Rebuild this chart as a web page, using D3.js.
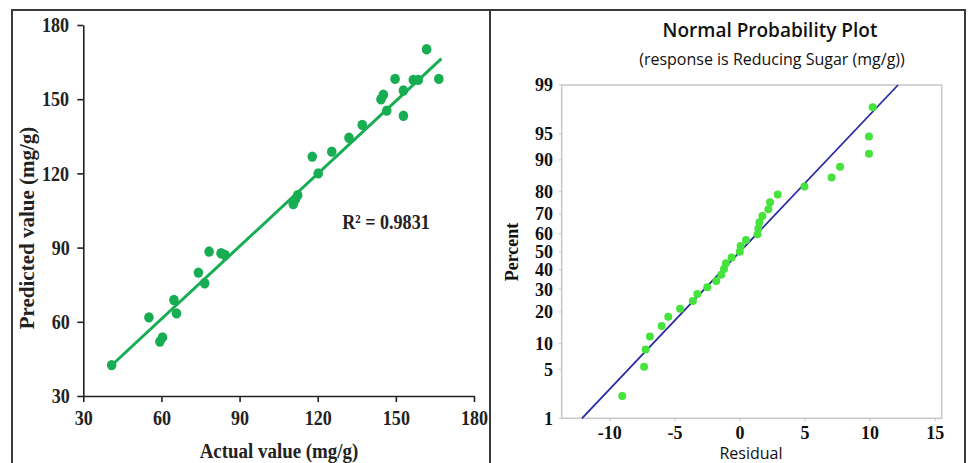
<!DOCTYPE html>
<html>
<head>
<meta charset="utf-8">
<script src="https://cdn.jsdelivr.net/npm/d3@7"></script>
<style>
  body { margin: 0; background: #fff; }
  svg { display: block; }
  .squeeze { transform-box: fill-box; transform-origin: center; }
</style>
</head>
<body>
<svg id="chart" width="970" height="463"></svg>
<script>
// ---- Left panel: actual vs predicted reducing sugar (mg/g) ----
const actualValues = [40.9, 55.2, 59.4, 60.4, 64.8, 65.8, 74.2, 76.6, 78.3, 82.9,
  84.4, 110.6, 111.5, 112.3, 117.9, 120.2, 125.4, 132.0, 137.1, 144.3,
  145.2, 146.5, 149.7, 152.9, 152.9, 156.7, 158.6, 161.8, 166.5];
const predictedValues = [42.5, 61.8, 52.0, 53.7, 68.8, 63.4, 79.9, 75.6, 88.4, 87.7,
  87.0, 107.6, 109.6, 111.2, 126.8, 120.0, 128.8, 134.4, 139.6, 150.0,
  151.8, 145.4, 158.2, 153.5, 143.3, 157.8, 157.8, 170.2, 158.2];
const valueTicks = [30, 60, 90, 120, 150, 180];
const trendSlope = 0.979;
const trendIntercept = 2.4;
const trendSpan = [41, 167.5];
const rSquaredText = "R² = 0.9831";

// ---- Right panel: normal probability plot of residuals ----
const residuals = [-9.05, -7.37, -7.25, -6.92, -6.02, -5.51, -4.6, -3.62, -3.28, -2.51,
  -1.82, -1.44, -1.23, -1.08, -0.64, -0.02, 0.05, 0.46, 1.35, 1.41,
  1.49, 1.72, 2.18, 2.31, 2.90, 4.95, 7.04, 7.69, 9.91, 9.91, 10.2];
const percents = [2.2, 5.4, 8.6, 11.8, 15.0, 18.2, 21.3, 24.5, 27.7, 30.9,
  34.1, 37.3, 40.4, 43.6, 46.8, 50.0, 53.2, 56.4, 59.6, 62.7,
  65.9, 69.1, 72.3, 75.5, 78.7, 81.8, 85.0, 88.2, 91.4, 94.6, 97.8];
const residualTicks = [-10, -5, 0, 5, 10, 15];
const percentTicks = [1, 5, 10, 20, 30, 40, 50, 60, 70, 80, 90, 95, 99];
const fitMean = 0;
const fitSd = 5.22;

// Inverse standard normal CDF (Acklam's rational approximation)
function probit(p) {
  const a = [-39.69683028665376, 220.9460984245205, -275.9285104469687, 138.3577518672690, -30.66479806614716, 2.506628277459239];
  const b = [-54.47609879822406, 161.5858368580409, -155.6989798598866, 66.80131188771972, -13.28068155288572];
  const c = [-0.007784894002430293, -0.3223964580411365, -2.400758277161838, -2.549732539343734, 4.374664141464968, 2.938163982698783];
  const d = [0.007784695709041462, 0.3224671290700398, 2.445134137142996, 3.754408661907416];
  const pl = 0.02425;
  let q, r;
  if (p < pl) {
    q = Math.sqrt(-2 * Math.log(p));
    return (((((c[0]*q+c[1])*q+c[2])*q+c[3])*q+c[4])*q+c[5]) / ((((d[0]*q+d[1])*q+d[2])*q+d[3])*q+1);
  } else if (p <= 1 - pl) {
    q = p - 0.5; r = q * q;
    return (((((a[0]*r+a[1])*r+a[2])*r+a[3])*r+a[4])*r+a[5])*q / (((((b[0]*r+b[1])*r+b[2])*r+b[3])*r+b[4])*r+1);
  } else {
    q = Math.sqrt(-2 * Math.log(1 - p));
    return -(((((c[0]*q+c[1])*q+c[2])*q+c[3])*q+c[4])*q+c[5]) / ((((d[0]*q+d[1])*q+d[2])*q+d[3])*q+1);
  }
}

const svg = d3.select("#chart");
const serif = "'Liberation Serif', 'Times New Roman', serif";
const sans = "'Open Sans', 'Noto Sans', sans-serif";

// Outer frame with divider between the two panels
svg.append("rect").attr("x", 12).attr("y", 10).attr("width", 953).attr("height", 470)
  .attr("fill", "none").attr("stroke", "#3a3a3a").attr("stroke-width", 2);
svg.append("line").attr("x1", 490).attr("x2", 490).attr("y1", 10).attr("y2", 463)
  .attr("stroke", "#3a3a3a").attr("stroke-width", 2);

// ================= Left panel =================
const L = svg.append("g");
const xL = d3.scaleLinear().domain([30, 180]).range([83.3, 474]);
const yL = d3.scaleLinear().domain([30, 180]).range([396, 25]);

const xAxisL = L.append("g").attr("transform", `translate(0,${yL(30)})`)
  .call(d3.axisBottom(xL).tickValues(valueTicks).tickSize(6).tickSizeOuter(0).tickPadding(7));
const yAxisL = L.append("g").attr("transform", `translate(${xL(30)},0)`)
  .call(d3.axisLeft(yL).tickValues(valueTicks).tickSize(6).tickSizeOuter(0).tickPadding(6));
[xAxisL, yAxisL].forEach(ax => {
  ax.selectAll("path, line").attr("stroke", "#222").attr("stroke-width", 1.6);
  ax.selectAll("text").attr("fill", "#222").attr("font-family", serif)
    .attr("font-weight", "bold").attr("font-size", 21)
    .attr("class", "squeeze").style("transform", "scale(0.86,1)");
});
xAxisL.selectAll("text").attr("dy", "0.78em");

// Trend line
const lineL = d3.line().x(d => xL(d)).y(d => yL(trendIntercept + trendSlope * d));
L.append("path").attr("d", lineL(trendSpan)).attr("fill", "none")
  .attr("stroke", "#17ad52").attr("stroke-width", 3);

// Points
L.append("g").selectAll("ellipse").data(actualValues).join("ellipse")
  .attr("cx", (d) => xL(d)).attr("cy", (d, i) => yL(predictedValues[i]))
  .attr("rx", 4.8).attr("ry", 5.2).attr("fill", "#17ad52");

// R² annotation
L.append("text").attr("x", 386).attr("y", 229).attr("text-anchor", "middle")
  .attr("font-family", serif).attr("font-size", 21).attr("font-weight", "bold")
  .attr("fill", "#222").attr("class", "squeeze").style("transform", "scale(0.86,1)")
  .text(rSquaredText);

// Axis titles
L.append("text").attr("x", 279).attr("y", 458).attr("text-anchor", "middle")
  .attr("font-family", serif).attr("font-size", 21.5).attr("font-weight", "bold")
  .attr("fill", "#222").attr("class", "squeeze").style("transform", "scale(0.88,1)")
  .text("Actual value (mg/g)");
L.append("text").attr("transform", "translate(34,228) rotate(-90)").attr("text-anchor", "middle")
  .attr("font-family", serif).attr("font-size", 21).attr("font-weight", "bold")
  .attr("fill", "#222").text("Predicted value (mg/g)");

// ================= Right panel =================
const R = svg.append("g");
const zMax = probit(0.99);
const xR = d3.scaleLinear().domain([-13.7, 15.5]).range([561.7, 941.7]);
const zR = d3.scaleLinear().domain([-zMax, zMax]).range([418.3, 85]);
const yR = p => zR(probit(p / 100));

// Plot box
R.append("rect").attr("x", xR.range()[0]).attr("y", 85)
  .attr("width", xR.range()[1] - xR.range()[0]).attr("height", 418.3 - 85)
  .attr("fill", "none").attr("stroke", "#c9c9c9").attr("stroke-width", 1.6);

// Percent ticks and labels
R.append("g").selectAll("line").data(percentTicks).join("line")
  .attr("x1", xR.range()[0] - 3).attr("x2", xR.range()[0])
  .attr("y1", d => yR(d)).attr("y2", d => yR(d))
  .attr("stroke", "#c9c9c9").attr("stroke-width", 1);
R.append("g").selectAll("text").data(percentTicks).join("text")
  .attr("x", 553).attr("y", d => yR(d)).attr("dy", "0.35em").attr("text-anchor", "end")
  .attr("font-family", serif).attr("font-weight", "bold").attr("font-size", 18)
  .attr("fill", "#111").text(d => d);

// Residual ticks and labels
R.append("g").selectAll("line").data(residualTicks).join("line")
  .attr("x1", d => xR(d)).attr("x2", d => xR(d))
  .attr("y1", 418.3).attr("y2", 421.3)
  .attr("stroke", "#c9c9c9").attr("stroke-width", 1);
R.append("g").selectAll("text").data(residualTicks).join("text")
  .attr("x", d => xR(d)).attr("y", 439).attr("text-anchor", "middle")
  .attr("font-family", serif).attr("font-weight", "bold").attr("font-size", 18)
  .attr("fill", "#111").text(d => d);

// Normal fit line
const lineR = d3.line().x(p => xR(fitMean + fitSd * probit(p / 100))).y(p => yR(p));
R.append("path").attr("d", lineR([1, 99])).attr("fill", "none")
  .attr("stroke", "#2a2aa6").attr("stroke-width", 1.8);

// Residual points
R.append("g").selectAll("circle").data(residuals).join("circle")
  .attr("cx", d => xR(d)).attr("cy", (d, i) => yR(percents[i]))
  .attr("r", 4).attr("fill", "#45e33c");

// Titles
R.append("text").attr("x", 770).attr("y", 37).attr("text-anchor", "middle")
  .attr("font-family", sans).attr("font-size", 19).attr("font-weight", 600).attr("fill", "#111")
  .text("Normal Probability Plot");
R.append("text").attr("x", 772).attr("y", 65).attr("text-anchor", "middle")
  .attr("font-family", sans).attr("font-size", 16).attr("fill", "#111")
  .text("(response is Reducing Sugar (mg/g))");
R.append("text").attr("x", 751).attr("y", 459).attr("text-anchor", "middle")
  .attr("font-family", sans).attr("font-size", 16).attr("fill", "#111")
  .text("Residual");
R.append("text").attr("transform", "translate(518,252) rotate(-90)").attr("text-anchor", "middle")
  .attr("font-family", serif).attr("font-weight", "bold").attr("font-size", 18)
  .attr("fill", "#111").text("Percent");
</script>
</body>
</html>
